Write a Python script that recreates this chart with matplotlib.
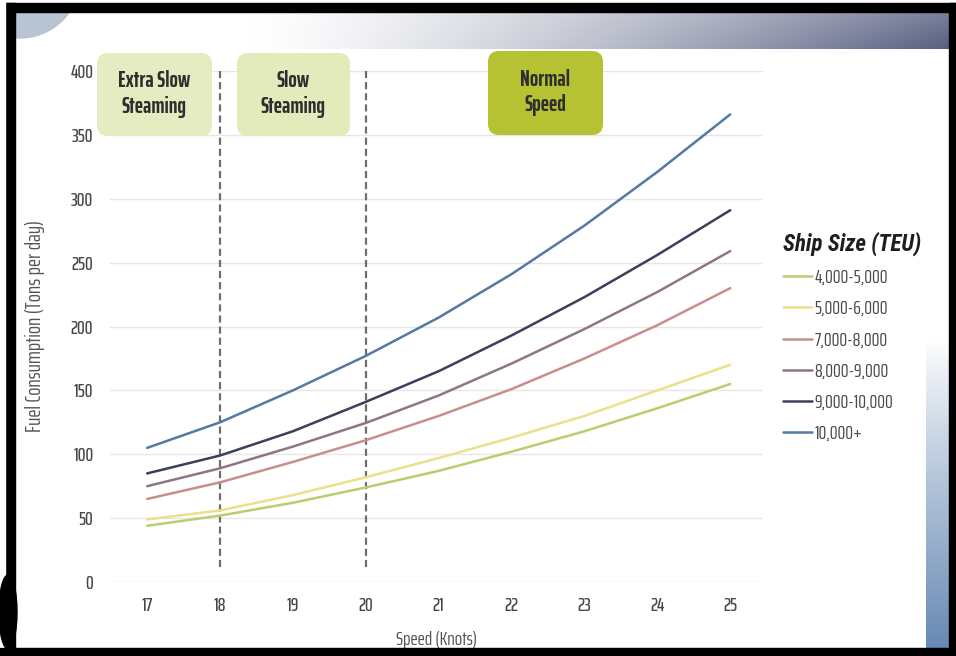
import numpy as np
import matplotlib
matplotlib.use("Agg")
import matplotlib.pyplot as plt
from matplotlib.patches import FancyBboxPatch, Rectangle, Circle, Ellipse

# ---- data -------------------------------------------------------------
speeds = [17, 18, 19, 20, 21, 22, 23, 24, 25]

ship_sizes = ["4,000-5,000", "5,000-6,000", "7,000-8,000",
              "8,000-9,000", "9,000-10,000", "10,000+"]

fuel_4000_5000 = [44, 52, 62, 74, 87, 102, 118, 136, 155]
fuel_5000_6000 = [49, 56, 68, 82, 97, 113, 130, 150, 170]
fuel_7000_8000 = [65, 78, 94, 111, 130, 151, 175, 201, 230]
fuel_8000_9000 = [75, 89, 106, 124.5, 146, 171, 198, 227, 259]
fuel_9000_10000 = [85, 99, 118, 141, 165, 193, 223, 256, 291]
fuel_10000_plus = [105, 125, 150, 177, 207, 241, 279, 321, 366]

series = [fuel_4000_5000, fuel_5000_6000, fuel_7000_8000,
          fuel_8000_9000, fuel_9000_10000, fuel_10000_plus]
colors = ["#b9cf6e", "#ebe08c", "#c98e8a", "#8e7684", "#3b3f5c", "#5479a2"]

y_ticks = [0, 50, 100, 150, 200, 250, 300, 350, 400]
phase_boundaries = [18, 20]
phase_labels = ["Extra Slow\nSteaming", "Slow\nSteaming", "Normal\nSpeed"]

# ---- fonts ------------------------------------------------------------
NARROW = ["Saira ExtraCondensed", "Roboto Condensed", "DejaVu Sans"]
TITLE_FONT = ["Roboto Condensed", "DejaVu Sans"]
plt.rcParams["font.family"] = NARROW

W, H = 956, 656
fig = plt.figure(figsize=(W / 100, H / 100), dpi=100)
fig.patch.set_facecolor("white")

# background layer in pixel coordinates
bg = fig.add_axes([0, 0, 1, 1], zorder=0)
bg.set_xlim(0, W)
bg.set_ylim(H, 0)
bg.axis("off")

# slide header band: white fading into slate on the right
grad = np.linspace(0, 1, 400)
grad = np.clip((grad - 0.25) / 0.75, 0, 1) ** 1.3
c0 = np.array([1.0, 1.0, 1.0])
c1 = np.array([0x56, 0x5e, 0x80]) / 255
band = c0[None, :] * (1 - grad[:, None]) + c1[None, :] * grad[:, None]
vert = np.linspace(0.8, 1.0, 40)[:, None, None]
band_img = 1 - (1 - band[None, :, :]) * vert
bg.imshow(band_img, extent=(12, W, 49, 12), aspect="auto", zorder=1)

# right-hand blue panel
vgrad = np.linspace(0, 1, 200) ** 0.9
p0 = np.array([1.0, 1.0, 1.0])
p1 = np.array([0x68, 0x8a, 0xb4]) / 255
panel = p0[None, :] * (1 - vgrad[:, None]) + p1[None, :] * vgrad[:, None]
bg.imshow(panel[:, None, :].repeat(10, axis=1), extent=(926, W, 648, 340),
          aspect="auto", zorder=1)

# grey disc in the top-left corner
bg.add_patch(Circle((20, -22), 60, color="#b8c3d3", zorder=2))

# ---- chart ------------------------------------------------------------
L, R, T, B = 110, 763, 71, 582
ax = fig.add_axes([L / W, 1 - B / H, (R - L) / W, (B - T) / H], zorder=2)
ax.patch.set_alpha(0)

for vals, name, col in zip(series, ship_sizes, colors):
    ax.plot(speeds, vals, color=col, lw=1.8, label=name, zorder=3,
            solid_capstyle="round")

ax.vlines(phase_boundaries, 12, 400, colors="#6e6e6e", linestyles=(0, (3.2, 1.8)),
          lw=1.6, zorder=2)

ax.set_xlim(16.49, 25.45)
ax.set_ylim(0, 400)
ax.set_xticks(speeds)
ax.set_yticks(y_ticks)
ax.set_xticklabels([str(s) for s in speeds])
ax.set_yticklabels([str(v) for v in y_ticks])
ax.grid(axis="y", color="#e6e6e6", lw=1.0, zorder=0)
ax.set_axisbelow(True)
for sp in ax.spines.values():
    sp.set_visible(False)
ax.tick_params(axis="both", length=0, labelcolor="#474747", labelsize=14)
for lab in ax.get_xticklabels() + ax.get_yticklabels():
    lab.set_fontweight("medium")
ax.tick_params(axis="y", pad=12)
ax.tick_params(axis="x", pad=11)

ax.set_xlabel("Speed (Knots)", fontsize=14, color="#555555")
ax.set_ylabel("Fuel Consumption (Tons per day)", fontsize=15.5, color="#555555")
ax.xaxis.set_label_coords(0.5, -0.095)
ax.yaxis.set_label_coords(-0.1, 0.5)

leg = ax.legend(loc="upper left", bbox_to_anchor=((783 - L) / (R - L), 1 - (232 - T) / (B - T)),
                frameon=False, title="Ship Size (TEU)", handlelength=1.5,
                handletextpad=0.12, labelspacing=0.68, fontsize=14,
                borderaxespad=0, borderpad=0)
leg.set_alignment("left")
title = leg.get_title()
title.set_family(TITLE_FONT)
title.set_fontsize(16.5)
title.set_fontweight("bold")
title.set_fontstyle("italic")
title.set_color("#1e1e1e")
for t in leg.get_texts():
    t.set_color("#4a4a4a")
leg._legend_box.sep = 9

# ---- overlay: phase boxes and slide frame -----------------------------
ov = fig.add_axes([0, 0, 1, 1], zorder=5)
ov.set_xlim(0, W)
ov.set_ylim(H, 0)
ov.axis("off")
ov.patch.set_alpha(0)

boxes = [((97, 53, 115, 83), "#e6ecc2"),
         ((237, 53, 113, 83), "#e3eabb"),
         ((488, 51, 115, 84), "#b6c232")]
for ((x, y, w, h), fc), label in zip(boxes, phase_labels):
    ov.add_patch(FancyBboxPatch((x, y), w, h,
                                boxstyle="round,pad=0,rounding_size=11",
                                fc=fc, ec="none", zorder=2))
    ov.text(x + w / 2, y + h / 2 - 0.5, label, ha="center", va="center",
            fontsize=16, fontweight="bold", color="#2e2e2e",
            linespacing=1.18, zorder=3)

# black frame of the slide
ov.add_patch(Rectangle((0, 0), W, 3, color="white", zorder=6))
ov.add_patch(Rectangle((0, 3), W, 9, color="black", zorder=6))
ov.add_patch(Rectangle((5, 3), 10, H, color="black", zorder=6))
ov.add_patch(Rectangle((0, 0), 5, H, color="white", zorder=6))
ov.add_patch(Rectangle((949, 3), 7, H, color="black", zorder=6))
ov.add_patch(Rectangle((0, 648), W, 8, color="black", zorder=6))
ov.add_patch(Ellipse((8, 612), 18, 74, color="black", zorder=6))

fig.savefig("out.png", dpi=100, facecolor="white")
